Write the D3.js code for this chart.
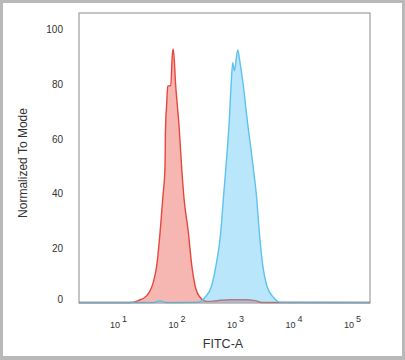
<!DOCTYPE html>
<html>
<head>
<meta charset="utf-8">
<script src="https://cdn.jsdelivr.net/npm/d3@7"></script>
<style>
html,body{margin:0;padding:0;background:#fff;}
svg{display:block;}
</style>
</head>
<body>
<svg id="chart" width="405" height="360"></svg>
<script>
// ---- data ----
const xTicks = [10, 100, 1000, 10000, 100000];
const yTicks = [0, 20, 40, 60, 80, 100];
const xDomain = [2.15, 203000];

// Isotype control (red)
const redX = [2.15, 16, 22.2, 31, 40.1, 45.9, 52.3, 58.1, 63.6, 64.4, 68, 70.7, 79.6, 84.8, 88.1, 96.8, 110.3, 122.7, 134.4, 159.2, 182, 207, 252, 328, 421, 554, 822, 1483, 2198, 2897, 203000];
const redY = [0, 0, 0.7, 2.5, 7.4, 13.5, 25.6, 37.8, 49.8, 60.7, 72.8, 78.9, 78.9, 90.4, 92.3, 78.9, 64.4, 48.7, 37.8, 25.6, 13.5, 6.2, 1.9, 0.4, 0.5, 0.8, 1.0, 1.0, 0.7, 0, 0];

// Stained sample (blue)
const blueX = [2.15, 40, 46, 52, 58, 66, 236, 307, 400, 473, 570, 631, 702, 800, 855, 914, 973, 1112, 1217, 1355, 1622, 2032, 2350, 2602, 2976, 3484, 4520, 5878, 203000];
const blueY = [0, 0, 0.4, 0.6, 0.4, 0, 0.1, 1.9, 6.2, 13.5, 25.6, 37.8, 49.8, 66.9, 78.9, 87.4, 84.4, 92.0, 87.4, 80.7, 66.2, 49.8, 37.8, 25.6, 13.5, 6.2, 1.9, 0.1, 0];

const xTitle = "FITC-A";
const yTitle = "Normalized To Mode";

// ---- drawing ----
const svg = d3.select("#chart");
const W = 405, H = 360;

// outer frame
svg.append("rect").attr("x", 1.5).attr("y", 1.5).attr("width", W - 3).attr("height", H - 4)
  .attr("fill", "#fff").attr("stroke", "#b9b9b9").attr("stroke-width", 3);
svg.append("rect").attr("x", 0).attr("y", H - 3.5).attr("width", W).attr("height", 3.5).attr("fill", "#b9b9b9");

const pL = 79, pR = 370, pT = 13, pB = 303;

const x = d3.scaleLog().domain(xDomain).range([pL, pR]);
const y = d3.scaleLinear().domain([0, 100]).range([302.5, 28]);

const redData = redX.map((v, i) => [v, redY[i]]);
const blueData = blueX.map((v, i) => [v, blueY[i]]);

const area = d3.area().x(d => x(d[0])).y0(y(0)).y1(d => y(d[1])).curve(d3.curveMonotoneX);
const line = d3.line().x(d => x(d[0])).y(d => y(d[1])).curve(d3.curveMonotoneX);

const g = svg.append("g");
g.append("path").datum(redData).attr("d", area).attr("fill", "rgba(234,80,68,0.42)");
g.append("path").datum(redData).attr("d", line).attr("fill", "none").attr("stroke", "#e8463c").attr("stroke-width", 1.4);
g.append("path").datum(blueData).attr("d", area).attr("fill", "rgba(90,195,245,0.42)");
g.append("path").datum(blueData).attr("d", line).attr("fill", "none").attr("stroke", "#5bc3ef").attr("stroke-width", 1.4);

// plot box
svg.append("rect").attr("x", pL).attr("y", pT).attr("width", pR - pL).attr("height", pB - pT)
  .attr("fill", "none").attr("stroke", "#8a8a8a").attr("stroke-width", 1);

// y axis
const yAxis = d3.axisLeft(y).tickValues(yTicks).tickSize(0).tickPadding(16).tickFormat(d3.format("d"));
const gy = svg.append("g").attr("transform", `translate(${pL},0)`).call(yAxis);
gy.select(".domain").remove();
gy.selectAll("text").attr("font-family", "Liberation Sans, Arial, sans-serif").attr("font-size", 10).attr("fill", "#333");
gy.selectAll(".tick").filter(d => d === 0).select("text").attr("dy", "-0.05em");
gy.selectAll(".tick").filter(d => d !== 0).select("text").attr("dy", "0.42em");

// x axis
const xAxis = d3.axisBottom(x).tickValues(xTicks).tickSize(0).tickPadding(0).tickFormat(() => "");
const gx = svg.append("g").attr("transform", `translate(0,${pB})`).call(xAxis);
gx.select(".domain").remove();
gx.selectAll(".tick text").each(function(d) {
  const t = d3.select(this).text(null)
    .attr("y", 25).attr("dy", 0)
    .attr("font-family", "Liberation Sans, Arial, sans-serif").attr("font-size", 9).attr("fill", "#333")
    .attr("text-anchor", "middle");
  t.append("tspan").text("10");
  t.append("tspan").attr("dx", 2).attr("dy", -6).text(Math.round(Math.log10(d)));
});

// titles
svg.append("text").attr("x", 223).attr("y", 347.5).attr("text-anchor", "middle")
  .attr("font-family", "Liberation Sans, Arial, sans-serif").attr("font-size", 12.5).attr("fill", "#333").text(xTitle);
svg.append("text").attr("transform", "translate(27,163) rotate(-90)").attr("text-anchor", "middle")
  .attr("font-family", "Liberation Sans, Arial, sans-serif").attr("font-size", 12).attr("fill", "#333").text(yTitle);
</script>
</body>
</html>
